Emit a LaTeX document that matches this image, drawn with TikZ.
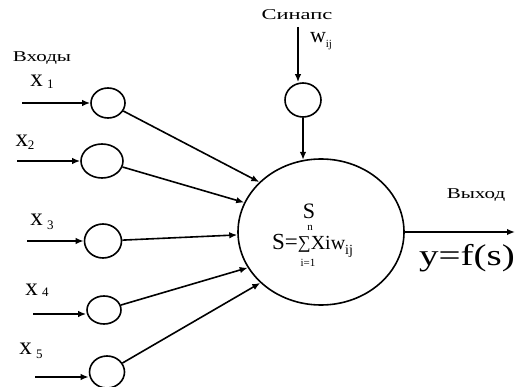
\documentclass[tikz,border=0pt]{standalone}
\usepackage{fontspec}
\setmainfont{Liberation Serif}
\usetikzlibrary{arrows.meta,shapes.geometric}
\newcommand{\fsz}[1]{\fontsize{#1}{#1}\selectfont}
\newcommand{\widetxt}[2][1.4]{\scalebox{#1}[1]{#2}}
\begin{document}
\begin{tikzpicture}[x=1pt,y=-1pt,
  wire/.style={line width=1.6pt, -{Latex[length=8pt,width=6.5pt]}},
  syn/.style={ellipse, draw, line width=1.6pt, minimum width=34pt, minimum height=30pt, inner sep=0pt},
  lbl/.style={inner sep=0pt},
]
\useasboundingbox (0,0) rectangle (526,387);

% synapse circles
\node[syn] (c1) at (108,103) {};
\node[syn, minimum width=42pt, minimum height=34pt] (c2) at (102,161) {};
\node[syn, minimum width=37pt, minimum height=34pt] (c3) at (103,241) {};
\node[syn, minimum width=34pt, minimum height=28pt] (c4) at (104,310) {};
\node[syn, minimum width=35pt, minimum height=32pt] (c5) at (107,372) {};
\node[syn, minimum width=36pt, minimum height=34pt] (ct) at (303,100) {};

% neuron body
\node[ellipse, draw, line width=1.6pt, minimum width=166pt, minimum height=146pt, inner sep=0pt] (N) at (321,232) {};

% inputs
\coordinate (i1) at (22,103);
\coordinate (i2) at (17,161);
\coordinate (i3) at (27,241);
\coordinate (i4) at (33,314);
\coordinate (i5) at (35,377);
\draw[wire] (i1) -- (c1);
\draw[wire] (i2) -- (c2);
\draw[wire] (i3) -- (c3);
\draw[wire] (i4) -- (i4 -| c4.west);
\draw[wire] (i5) -- (i5 -| c5.west);

% labels of inputs
\node[lbl] (lin) at (42,58) {\widetxt{\fsz{15}Входы}};
\node[lbl] (lx1) at (42,82) {\fsz{25}x\,\raisebox{-2pt}{\fsz{13}1}};
\node[lbl] (lx2) at (25,142) {\fsz{25}x\raisebox{-3pt}{\fsz{13}2}};
\node[lbl] (lx3) at (42,222) {\fsz{25}x\,\raisebox{-4pt}{\fsz{13}3}};
\node[lbl] (lx4) at (37,290) {\fsz{25}x\,\raisebox{-1pt}{\fsz{13}4}};
\node[lbl] (lx5) at (31,351) {\fsz{25}x\,\raisebox{-4pt}{\fsz{13}5}};

% synapse on top
\node[lbl] (lsyn) at (297,15) {\widetxt[1.5]{\fsz{15}Синапс}};
\node[lbl] (lw) at (321,41) {\fsz{22}w\raisebox{-5pt}{\fsz{11}ij}};
\coordinate (s0) at (298,27);
\draw[wire] (s0) -- (s0 |- ct.north);
\draw[wire] (ct) -- (N.104);

% synapses to body
\draw[wire] (c1) -- (N.141);
\draw[wire] (c2) -- (N.159);
\draw[wire] (c3) -- (N.182);
\draw[wire] (c4) -- (N.206);
\draw[wire] (c5) -- (N.220);

% formula
\node[lbl] (fs1) at (309,211) {\fsz{22}S};
\node[lbl] (fn) at (310,228) {\fsz{11}n};
\node[lbl, anchor=west] (fm) at (272,246) {{\fsz{23}S=}\raisebox{1pt}{\fsz{18}∑}{\fsz{20}Xiw}\raisebox{-5pt}{\fsz{14}ij}};
\node[lbl] (fi) at (308,263) {\fsz{11}i=1};

% output
\coordinate (out) at (515,232);
\draw[wire] (N.east) -- (out);
\node[lbl] (lout) at (476,195) {\widetxt{\fsz{15}Выход}};
\node[lbl] (ly) at (467,258) {\widetxt[1.3]{\fsz{30}y=f(s)}};
\end{tikzpicture}
\end{document}
